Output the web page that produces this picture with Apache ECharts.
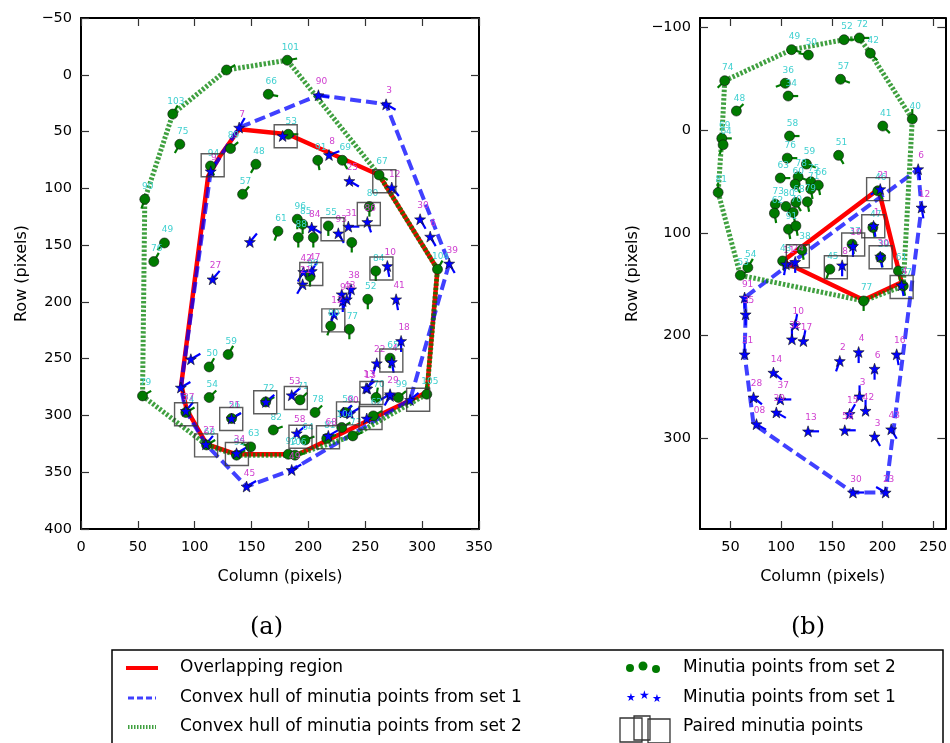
<!DOCTYPE html>
<html><head><meta charset="utf-8">
<script src="https://cdn.jsdelivr.net/npm/echarts@6/dist/echarts.min.js"></script>
<style>html,body{margin:0;padding:0;background:#fff}#chart{width:950px;height:743px}</style>
</head><body><div id="chart"></div>
<script>
// Minutia points: [label, column, row, stub angle in degrees]
const set2A = [
  ['101',181.4,-12.8,10],['',128.0,-4.2,30],['103',80.7,34.6,60],['75',86.9,61.2,240],['66',164.7,17.2,-10],
  ['94',113.9,80.3,-70],['89',131.5,65.0,40],['48',153.8,78.8,240],['57',142.1,105.2,50],['90',56.1,109.6,250],
  ['49',73.4,148.1,225],['76',64.0,164.5,60],['59',129.4,246.4,60],['50',112.7,257.3,60],['79',54.1,282.8,30],
  ['54',112.7,284.2,45],['74',92.2,297.4,30],['56',132.4,302.7,30],['72',162.4,288.1,30],['71',192.6,286.3,45],
  ['78',205.8,297.4,45],['82',169.1,312.8,20],['63',149.2,327.7,160],['68',110.4,326.0,30],['95',136.8,335.0,30],
  ['64',197.0,321.6,20],['92',182.3,334.2,0],['106',188.2,335.0,10],['81',216.1,320.3,20],['58',232.2,297.4,45],
  ['104',229.3,310.6,30],['73',239.0,318.0,20],['62',257.1,300.4,30],['70',259.5,284.2,80],['99',279.1,284.2,40],
  ['105',304.1,281.3,90],['96',190.2,127.2,-90],['85',194.9,131.6,-90],['88',191.1,143.3,-90],['',204.3,143.3,-90],
  ['55',217.5,133.1,-90],['',238.1,147.7,-90],['80',253.6,116.1,-90],['61',173.2,137.8,250],['99',201.4,177.7,-90],
  ['84',259.2,172.8,-90],['52',252.2,197.7,-90],['77',236.0,224.1,-90],['80',219.6,221.2,250],['65',271.8,249.6,-90],
  ['104',313.5,171.3,60],['53',182.3,52.4,0],['91',208.2,75.3,-80],['69',229.8,75.3,-60],['67',262.1,88.2,-30]
];
const set1A = [
  ['90',208.8,18.0,-10],['3',268.3,26.0,-30],['8',218.1,70.6,20],['25',236.0,93.5,-30],['12',273.3,99.3,-50],
  ['',177.3,53.9,0],['7',139.1,46.5,60],['9',114.1,85.0,60],['',148.5,147.2,50],['27',115.7,180.1,50],
  ['',96.6,250.5,30],['',87.8,275.4,30],['84',202.9,134.5,-30],['93',226.3,139.6,-60],['31',235.1,133.7,0],
  ['86',251.8,129.6,-70],['30',298.2,127.2,-60],['6',307.1,142.5,-60],['39',323.8,166.2,-60],['10',269.4,168.4,-80],
  ['42',195.5,173.6,-120],['47',202.9,172.8,60],['21',194.9,184.5,-120],['',229.3,193.3,-90],['38',237.5,188.9,-100],
  ['43',233.7,197.7,-110],['97',230.2,199.2,-90],['41',277.1,197.7,-80],['12',222.5,210.9,-110],['18',281.5,234.4,-90],
  ['22',260.1,254.0,-110],['4',273.3,252.9,-80],['13',251.8,276.3,60],['',271.8,282.8,-120],['37',92.2,296.0,50],
  ['27',109.8,325.4,50],['21',132.4,302.7,30],['34',136.8,333.3,30],['45',145.6,362.6,30],['49',185.3,348.0,30],
  ['',162.6,288.1,40],['53',185.3,282.2,40],['58',189.7,315.7,40],['68',217.5,318.0,30],['90',236.6,298.3,30],
  ['',230.7,297.4,40],['13',250.7,276.0,40],['',251.3,302.7,30],['29',271.8,281.3,-150],['',289.4,286.3,40]
];
const pairedA = [
  [180.0,54.2],[115.8,79.7],[266.7,93.8],[253.1,122.6],[221.2,136.0],[202.5,175.4],[264.2,170.6],
  [221.9,216.3],[272.9,251.6],[92.4,298.9],[132.1,303.1],[162.0,288.4],[188.9,284.6],[110.0,326.4],
  [137.1,333.9],[193.0,318.7],[217.2,319.2],[234.8,298.2],[254.6,302.2],[255.4,280.3],[296.5,286.2]
];
const hull2A = [[181.4,-12.8],[128.0,-4.2],[80.7,34.6],[56.1,109.6],[54.1,282.8],[110.4,326.0],[136.8,335.0],
  [188.2,335.0],[239.0,318.0],[304.1,281.3],[313.5,171.3],[262.1,88.2],[181.4,-12.8]];
const hull1A = [[208.8,18.0],[268.3,26.0],[323.8,166.2],[289.4,286.3],[185.3,348.0],[145.6,362.6],[109.8,325.4],
  [92.2,296.0],[87.8,275.4],[114.1,85.0],[139.1,46.5],[208.8,18.0]];
const overlapA = [[139.1,48.0],[182.0,52.4],[262.1,88.2],[313.5,171.3],[304.1,279.6],[191.1,334.2],[136.8,334.2],
  [110.4,325.3],[92.8,294.5],[88.2,272.5],[111.8,89.4],[122.1,71.8],[139.1,48.0]];

const set2B = [
  ['49',110.3,-78.2,-15],['50',126.9,-73.0,170],['52',162.1,-87.9,0],['72',177.2,-89.6,0],['42',188.0,-74.7,-45],
  ['74',44.4,-48.0,225],['36',104.1,-45.5,200],['34',107.0,-33.1,0],['57',158.6,-49.4,-20],['48',55.9,-18.5,45],
  ['40',229.4,-10.7,90],['41',200.3,-3.9,-45],['58',108.3,5.8,0],['69',41.5,8.1,0],['64',42.8,14.3,250],
  ['76',106.1,27.3,0],['59',125.0,33.1,-20],['51',156.7,24.6,-60],['63',99.2,46.7,0],['78',116.8,45.5,-20],
  ['75',129.3,50.3,-30],['66',136.7,53.6,-80],['81',37.9,60.7,90],['60',113.9,52.6,-60],['73',94.3,72.1,-80],
  ['80',104.8,74.3,-60],['62',93.4,80.8,-80],['79',125.9,69.8,-80],['68',114.6,70.4,-60],['71',129.3,57.4,-80],
  ['70',111.9,80.1,-80],['91',107.3,96.4,-80],['',114.6,93.2,-80],['38',120.5,116.6,-80],['43',101.5,127.3,-80],
  ['54',67.2,133.7,60],['53',59.8,141.2,30],['45',148.1,135.3,-110],['37',170.0,111.0,-80],['47',190.5,94.7,-80],
  ['39',198.3,124.0,-80],['46',195.4,59.1,-60],['77',181.4,166.2,-90],['61',215.7,137.0,-80],['57',220.5,151.6,-80]
];
const set1B = [
  ['21',197.8,57.4,-150],['6',235.2,38.0,-80],['12',238.5,75.3,-80],['1',191.2,93.2,-80],['19',170.9,112.7,-90],
  ['30',197.8,123.0,-80],['8',160.2,131.5,-90],['24',113.9,128.2,-90],['11',104.8,130.5,-100],['4',218.9,150.9,-80],
  ['91',64.0,162.9,-90],['35',65.0,179.2,-90],['10',113.9,189.6,80],['32',110.7,203.5,90],['17',122.0,205.2,80],
  ['31',64.0,218.1,90],['14',92.4,235.9,-40],['2',157.9,224.6,-110],['4',176.5,215.9,-90],['6',192.2,232.1,-90],
  ['16',214.0,218.1,-80],['28',72.8,260.0,-40],['37',99.2,262.0,0],['39',95.3,274.6,-30],['08',75.7,286.0,-30],
  ['13',126.6,293.0,0],['58',162.8,292.0,0],['15',167.6,276.0,60],['42',183.3,273.0,90],['3',177.4,259.0,90],
  ['3',192.2,298.0,-60],['43',208.6,291.0,-60],['30',170.9,352.5,0],['23',203.1,352.5,150]
];
const pairedB = [[195.7,57.4],[190.9,93.5],[171.1,111.3],[198.2,123.7],[154.0,133.4],[116.5,122.7],[218.9,152.7]];
const hull2B = [[44.4,-48.0],[110.3,-78.2],[162.1,-87.9],[177.2,-89.6],[188.0,-74.7],[229.4,-10.7],[220.5,151.6],
  [181.4,166.2],[59.8,141.2],[37.9,60.7],[41.5,8.1],[44.4,-48.0]];
const hull1B = [[235.2,38.0],[238.5,75.3],[203.1,352.5],[170.9,352.5],[72.8,286.0],[64.0,218.1],[65.0,179.2],
  [64.0,162.9],[235.2,38.0]];
const overlapB = [[101.5,127.6],[196.1,57.4],[218.9,148.0],[181.4,165.2],[101.5,127.6]];

const ticksAx = [0,50,100,150,200,250,300,350];
const ticksAy = [-50,0,50,100,150,200,250,300,350,400];
const ticksBx = [50,100,150,200,250];
const ticksBy = [-100,0,100,200,300];

const STAR = 'path://M0,-10L2.35,-3.24L9.51,-3.09L3.8,1.24L5.88,8.09L0,4L-5.88,8.09L-3.8,1.24L-9.51,-3.09L-2.35,-3.24Z';
const FONT = 'DejaVu Sans';
const minus = v => String(v).replace('-', '\u2212');

function axisPair(gi, opts, isX) {
  const base = {
    gridIndex: gi, type: 'value', min: opts.min, max: opts.max,
    axisLine: { show: true, onZero: false, lineStyle: { color: '#000', width: 2 } },
    splitLine: { show: false }
  };
  const tickVals = opts.ticks;
  const main = Object.assign({}, base, {
    position: isX ? 'bottom' : 'left',
    inverse: !isX,
    axisTick: { show: true, inside: true, length: 8, lineStyle: { color: '#333', width: 1.2 }, customValues: tickVals },
    axisLabel: { show: true, color: '#000', fontFamily: FONT, fontSize: 14.5, margin: isX ? 11 : 9, formatter: minus, customValues: tickVals },
    name: isX ? 'Column (pixels)' : 'Row (pixels)', nameLocation: 'middle', nameGap: opts.nameGap,
    nameTextStyle: { color: '#000', fontFamily: FONT, fontSize: 16 }
  });
  const other = Object.assign({}, base, {
    position: isX ? 'top' : 'right',
    inverse: !isX,
    axisTick: { show: true, inside: true, length: 8, lineStyle: { color: '#333', width: 1.2 }, customValues: tickVals },
    axisLabel: { show: false }
  });
  return [main, other];
}

function hullSeries(data, xi, yi, style, z) {
  return { type: 'line', xAxisIndex: xi, yAxisIndex: yi, data: data, symbol: 'none', showSymbol: false,
    lineStyle: style, z: z, silent: true, animation: false, clip: true };
}
function stubSeries(data, xi, yi, color, len) {
  return { type: 'custom', xAxisIndex: xi, yAxisIndex: yi, z: 5, silent: true, animation: false,
    data: data.map(d => [d[1], d[2], d[3]]), encode: { x: 0, y: 1 },
    renderItem: (params, api) => {
      const p = api.coord([api.value(0), api.value(1)]);
      const a = api.value(2) * Math.PI / 180;
      return { type: 'line', shape: { x1: p[0], y1: p[1], x2: p[0] + len * Math.cos(a), y2: p[1] - len * Math.sin(a) },
        style: { stroke: color, lineWidth: 2.2 } };
    } };
}
function pointSeries(data, xi, yi, symbol, size, color, labelColor) {
  return { type: 'scatter', xAxisIndex: xi, yAxisIndex: yi, z: 6, silent: true, animation: false,
    data: data.map(d => [d[1], d[2], d[0]]), symbol: symbol, symbolSize: size,
    itemStyle: { color: color, borderColor: '#111', borderWidth: 0.6, opacity: 1 },
    label: { show: true, position: 'top', distance: 3, offset: [3, 0], formatter: p => p.data[2],
      color: labelColor, fontFamily: FONT, fontSize: 9 } };
}
function boxSeries(data, xi, yi) {
  return { type: 'scatter', xAxisIndex: xi, yAxisIndex: yi, z: 7, silent: true, animation: false,
    data: data, symbol: 'rect', symbolSize: 23,
    itemStyle: { color: 'rgba(0,0,0,0)', borderColor: '#333', borderWidth: 1.4 } };
}

const redStyle = { color: '#ff0000', width: 4.5, type: 'solid' };
const blueStyle = { color: 'rgba(0,0,255,0.75)', width: 4, type: [11, 5] };
const greenStyle = { color: 'rgba(0,128,0,0.75)', width: 5, type: [2.5, 1.8] };

const [xa, xaTop] = axisPair(0, { min: 0, max: 350, ticks: ticksAx, nameGap: 40 }, true);
const [ya, yaRight] = axisPair(0, { min: -50, max: 400, ticks: ticksAy, nameGap: 51 }, false);
const [xb, xbTop] = axisPair(1, { min: 20, max: 262, ticks: ticksBx, nameGap: 40 }, true);
const [yb, ybRight] = axisPair(1, { min: -109, max: 388, ticks: ticksBy, nameGap: 59 }, false);

const legendText = { fill: '#000', fontFamily: FONT, fontSize: 17, verticalAlign: 'middle' };
const option = {
  backgroundColor: '#fff',
  animation: false,
  grid: [
    { left: 81, top: 18, width: 398, height: 511 },
    { left: 700, top: 18, width: 247, height: 511 }
  ],
  xAxis: [xa, xaTop, xb, xbTop],
  yAxis: [ya, yaRight, yb, ybRight],
  series: [
    hullSeries(overlapA, 0, 0, redStyle, 2),
    hullSeries(hull1A, 0, 0, blueStyle, 3),
    hullSeries(hull2A, 0, 0, greenStyle, 4),
    stubSeries(set2A, 0, 0, '#007a00', 10),
    stubSeries(set1A, 0, 0, '#0000ff', 11),
    pointSeries(set2A, 0, 0, 'circle', 10, '#007a00', '#40d0d0'),
    pointSeries(set1A, 0, 0, STAR, 11, '#0000ff', '#d040d0'),
    boxSeries(pairedA, 0, 0),
    hullSeries(overlapB, 2, 2, redStyle, 2),
    hullSeries(hull1B, 2, 2, blueStyle, 3),
    hullSeries(hull2B, 2, 2, greenStyle, 4),
    stubSeries(set2B, 2, 2, '#007a00', 10),
    stubSeries(set1B, 2, 2, '#0000ff', 11),
    pointSeries(set2B, 2, 2, 'circle', 10, '#007a00', '#40d0d0'),
    pointSeries(set1B, 2, 2, STAR, 11, '#0000ff', '#d040d0'),
    boxSeries(pairedB, 2, 2)
  ],
  graphic: [
    { type: 'text', left: 250, top: 616, style: { text: '(a)', fill: '#000', fontFamily: 'DejaVu Serif', fontSize: 24 } },
    { type: 'text', left: 791, top: 616, style: { text: '(b)', fill: '#000', fontFamily: 'DejaVu Serif', fontSize: 24 } },
    { type: 'rect', shape: { x: 112, y: 650, width: 831, height: 110 }, style: { fill: '#fff', stroke: '#000', lineWidth: 1.5 }, z: 10 },
    { type: 'line', shape: { x1: 126, y1: 668, x2: 158, y2: 668 }, style: { stroke: '#ff0000', lineWidth: 4 }, z: 11 },
    { type: 'line', shape: { x1: 128, y1: 698, x2: 156, y2: 698 }, style: { stroke: 'rgba(0,0,255,0.75)', lineWidth: 3, lineDash: [6, 3] }, z: 11 },
    { type: 'line', shape: { x1: 128, y1: 727, x2: 156, y2: 727 }, style: { stroke: 'rgba(0,128,0,0.75)', lineWidth: 4, lineDash: [1.5, 1.5] }, z: 11 },
    { type: 'text', x: 180, y: 668, style: Object.assign({ text: 'Overlapping region' }, legendText), z: 11 },
    { type: 'text', x: 180, y: 698, style: Object.assign({ text: 'Convex hull of minutia points from set 1' }, legendText), z: 11 },
    { type: 'text', x: 180, y: 727, style: Object.assign({ text: 'Convex hull of minutia points from set 2' }, legendText), z: 11 },
    { type: 'circle', shape: { cx: 630, cy: 668, r: 4 }, style: { fill: '#007a00' }, z: 11 },
    { type: 'circle', shape: { cx: 643, cy: 666, r: 4.5 }, style: { fill: '#007a00' }, z: 11 },
    { type: 'circle', shape: { cx: 656, cy: 669, r: 4 }, style: { fill: '#007a00' }, z: 11 },
    { type: 'text', x: 683, y: 668, style: Object.assign({ text: 'Minutia points from set 2' }, legendText), z: 11 },
    { type: 'text', x: 626, y: 698, style: { text: '\u2605', fill: '#0000ff', fontSize: 11, verticalAlign: 'middle', fontFamily: FONT }, z: 11 },
    { type: 'text', x: 639, y: 696, style: { text: '\u2605', fill: '#0000ff', fontSize: 12, verticalAlign: 'middle', fontFamily: FONT }, z: 11 },
    { type: 'text', x: 652, y: 699, style: { text: '\u2605', fill: '#0000ff', fontSize: 11, verticalAlign: 'middle', fontFamily: FONT }, z: 11 },
    { type: 'text', x: 683, y: 698, style: Object.assign({ text: 'Minutia points from set 1' }, legendText), z: 11 },
    { type: 'rect', shape: { x: 620, y: 718, width: 22, height: 24 }, style: { fill: 'none', stroke: '#333', lineWidth: 1.3 }, z: 11 },
    { type: 'rect', shape: { x: 634, y: 716, width: 16, height: 24 }, style: { fill: 'none', stroke: '#333', lineWidth: 1.3 }, z: 11 },
    { type: 'rect', shape: { x: 648, y: 719, width: 22, height: 24 }, style: { fill: 'none', stroke: '#333', lineWidth: 1.3 }, z: 11 },
    { type: 'text', x: 683, y: 727, style: Object.assign({ text: 'Paired minutia points' }, legendText), z: 11 }
  ]
};
const chart = echarts.init(document.getElementById('chart'), null, { renderer: 'canvas' });
chart.setOption(option);
</script>
</body></html>
